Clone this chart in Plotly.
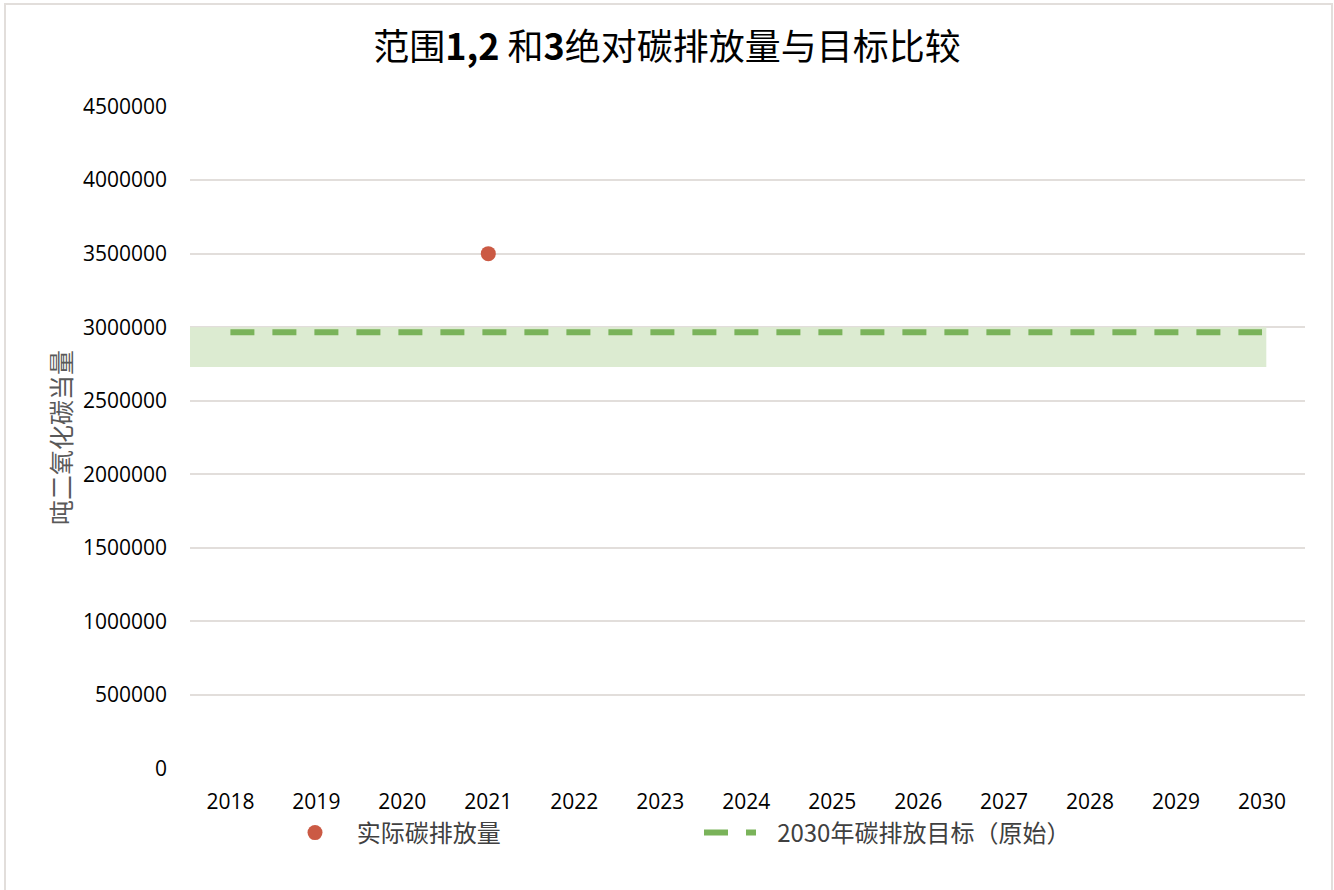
import plotly.graph_objects as go

years = [2018, 2019, 2020, 2021, 2022, 2023, 2024, 2025, 2026, 2027, 2028, 2029, 2030]
actual_years = [2021]
actual_values = [3500000]
target_values = [2965000] * len(years)
band_x = [2017.5, 2030.05, 2030.05, 2017.5]
band_y = [3000000, 3000000, 2730000, 2730000]
y_ticks = [0, 500000, 1000000, 1500000, 2000000, 2500000, 3000000, 3500000, 4000000, 4500000]

W, H = 1334, 890
L, R, T, B = 190, 29, 106, 121
pw, ph = W - L - R, H - T - B

font_cjk = "Noto Sans CJK SC"
NB = "\u00a0"

fig = go.Figure()
fig.add_trace(go.Scatter(
    x=band_x, y=band_y, fill="toself", mode="lines",
    line=dict(width=0), fillcolor="#dcebd1", showlegend=False, hoverinfo="skip"))
fig.add_trace(go.Scatter(
    x=actual_years, y=actual_values, mode="markers", name=NB * 2 + "实际碳排放量",
    marker=dict(color="#cb5a44", size=15)))
fig.add_trace(go.Scatter(
    x=years, y=target_values, mode="lines", name=NB * 3 + "2030年碳排放目标（原始）",
    line=dict(color="#7ab35a", width=6, dash="24px,18px")))

fig.update_layout(
    width=W, height=H,
    margin=dict(l=L, r=R, t=T, b=B),
    paper_bgcolor="white", plot_bgcolor="white",
    font=dict(family=font_cjk, color="#000000"),
    title=dict(text="范围<b>1,2</b> 和<b>3</b>绝对碳排放量与目标比较", x=0.5, xanchor="center",
               y=1 - 47 / H, yanchor="middle",
               font=dict(size=36, color="#000000", family=font_cjk)),
    xaxis=dict(range=[2017.53, 2030.5], tickmode="array", tickvals=years,
               ticktext=[str(y) for y in years], showgrid=False, zeroline=False,
               showline=False, ticks="", tickfont=dict(size=21, family="Open Sans", color="#000000"),
               ticklabelstandoff=18),
    yaxis=dict(range=[-4000, 4504000], tickmode="array", tickvals=y_ticks,
               ticktext=[str(v) for v in y_ticks], showgrid=True, gridcolor="#e2dedb",
               gridwidth=2, zeroline=False, showline=False, ticks="",
               tickfont=dict(size=21, family="Open Sans", color="#000000"),
               ticklabelstandoff=22,
               title=dict(text="吨二氧化碳当量", font=dict(size=25, color="#595959", family=font_cjk),
                          standoff=4)),
    legend=dict(orientation="h", x=(284 - L) / pw, xanchor="left", y=-(833 - 769) / ph, yanchor="middle",
                font=dict(size=24, color="#404040", family=font_cjk), itemwidth=52,
                entrywidth=348, tracegroupgap=0),
    showlegend=True,
)

fig.add_shape(type="rect", xref="paper", yref="paper",
              x0=(5 - L) / pw, x1=(1332 - L) / pw,
              y0=(T + ph - 895) / ph, y1=(T + ph - 4) / ph,
              line=dict(color="#e2dedb", width=2), fillcolor="rgba(0,0,0,0)", layer="below")

fig.write_html("out.html", config={"displayModeBar": False},
               post_script="document.body.style.margin='0px';")
